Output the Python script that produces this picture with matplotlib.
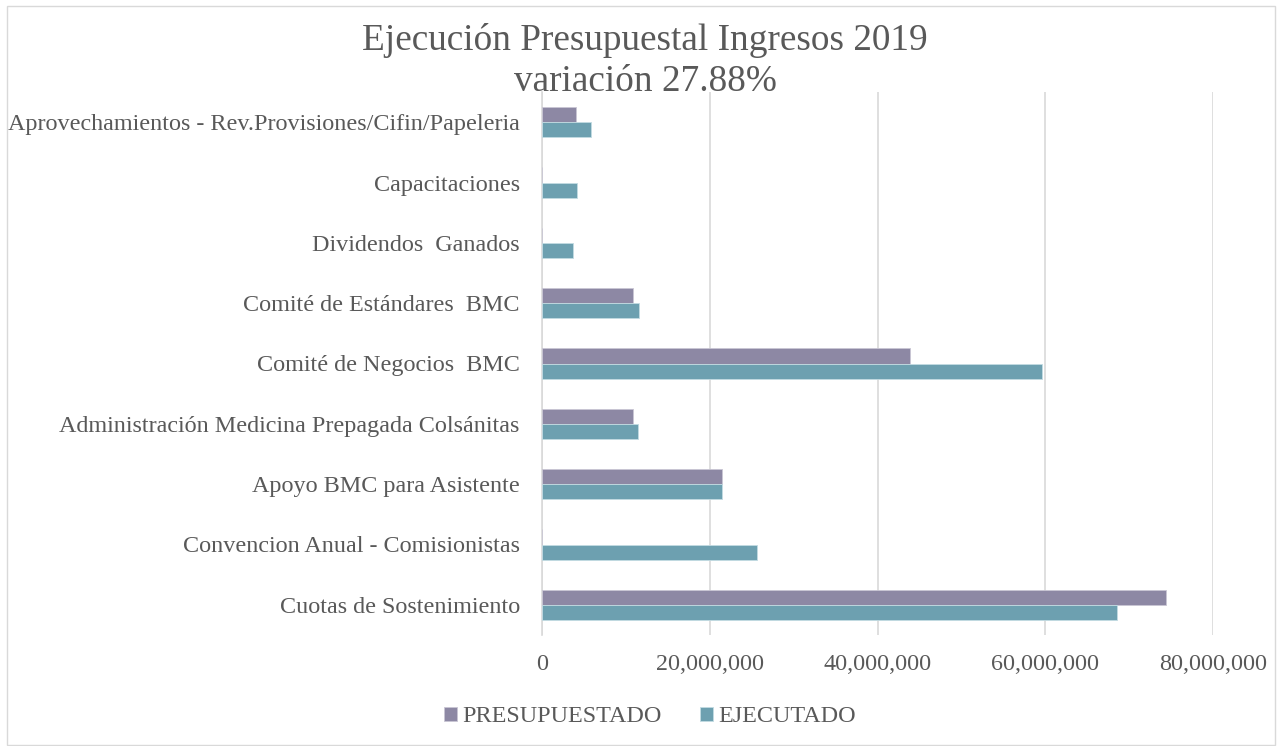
import matplotlib.pyplot as plt
import numpy as np
from matplotlib.patches import Rectangle
from matplotlib.ticker import FuncFormatter

# --- date ---
categorias = ['Cuotas de Sostenimiento',
              'Convencion Anual - Comisionistas',
              'Apoyo BMC para Asistente',
              'Administración Medicina Prepagada Colsánitas',
              'Comité de Negocios  BMC',
              'Comité de Estándares  BMC',
              'Dividendos  Ganados',
              'Capacitaciones',
              'Aprovechamientos - Rev.Provisiones/Cifin/Papeleria']
presupuestado = [74.4e6, 0, 21.5e6, 10.8e6, 43.9e6, 10.9e6, 0, 0, 4.06e6]
ejecutado = [68.5e6, 25.6e6, 21.5e6, 11.4e6, 59.6e6, 11.6e6, 3.7e6, 4.17e6, 5.88e6]
ticks_x = [0, 20e6, 40e6, 60e6, 80e6]

col_pres = '#8d88a4'
col_ejec = '#6da0b0'
gris = '#595959'

plt.rcParams['font.family'] = ['Liberation Serif', 'DejaVu Serif']

fig = plt.figure(figsize=(12.82, 7.46), dpi=100)
ax = fig.add_axes([542 / 1282, 1 - 635 / 746, (1213 - 542) / 1282, (635 - 92) / 746])

y = np.arange(len(categorias))
h = 0.25
ax.barh(y + h / 2, presupuestado, height=h, color=col_pres, edgecolor='#c9c6d4',
        linewidth=0.6, label='PRESUPUESTADO', zorder=3)
ax.barh(y - h / 2, ejecutado, height=h, color=col_ejec, edgecolor='#c3dbe2',
        linewidth=0.6, label='EJECUTADO', zorder=3)

ax.set_xlim(0, 80e6)
ax.set_ylim(-0.5, len(categorias) - 0.5)
ax.set_xticks(ticks_x)
ax.xaxis.set_major_formatter(FuncFormatter(lambda v, p: f'{v:,.0f}'))
ax.set_yticks(y)
ax.set_yticklabels(categorias)
ax.tick_params(axis='both', length=0, labelsize=17.4, labelcolor=gris)
ax.tick_params(axis='x', pad=14)
ax.tick_params(axis='y', pad=16)
ax.grid(axis='x', color='#d9d9d9', linewidth=1.2, zorder=0)
for s in ['top', 'right', 'bottom']:
    ax.spines[s].set_visible(False)
ax.spines['left'].set_color('#d9d9d9')
ax.spines['left'].set_linewidth(1.2)

fig.text(645 / 1282, 1 - 40 / 746, 'Ejecución Presupuestal Ingresos 2019', ha='center', va='center',
         fontsize=26.8, color=gris)
fig.text(645 / 1282, 1 - 82 / 746, 'variación 27.88%', ha='center', va='center',
         fontsize=26.8, color=gris)

leg = fig.legend(loc='center', bbox_to_anchor=(650 / 1282, 1 - 717 / 746), ncol=2, frameon=False,
                 fontsize=17.4, handlelength=0.55, handleheight=0.55, handletextpad=0.2,
                 columnspacing=1.6)
for t in leg.get_texts():
    t.set_color(gris)

# chenar
fig.patches.append(Rectangle((7 / 1282, 0.002), 1 - 14 / 1282, 0.99, transform=fig.transFigure,
                             fill=False, edgecolor='#d9d9d9', linewidth=1))

plt.savefig('out.png', dpi=100)
